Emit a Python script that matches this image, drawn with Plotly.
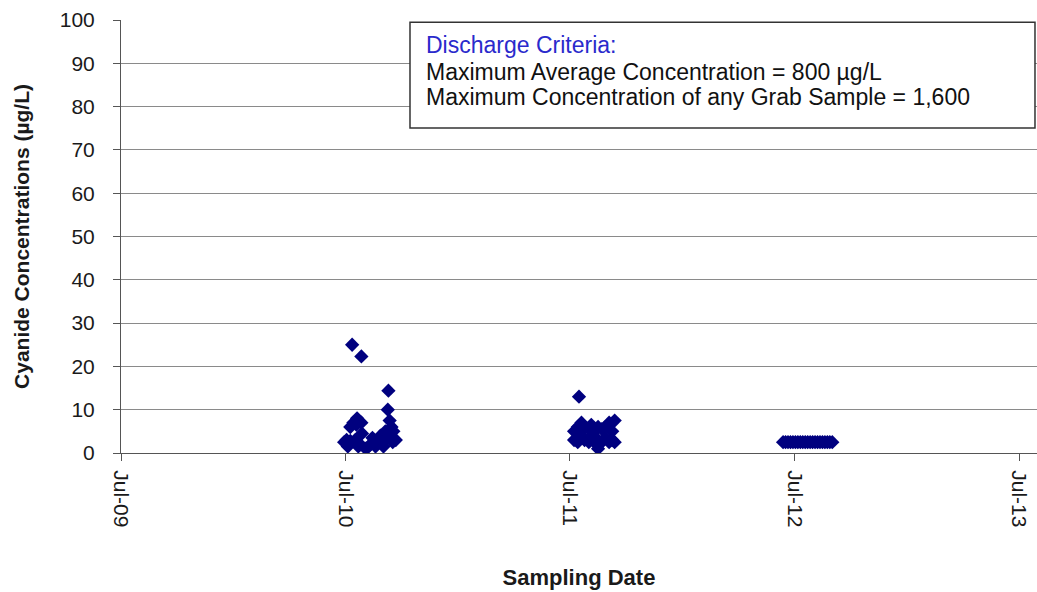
import plotly.graph_objects as go

# ---- data ----
dates_2010 = ["2010-07-12", "2010-07-27", "2010-09-09", "2010-09-08", "2010-09-11",
              "2010-07-20", "2010-07-14", "2010-07-27", "2010-07-09", "2010-07-19",
              "2010-09-14", "2010-09-17", "2010-07-03", "2010-06-29", "2010-07-09",
              "2010-07-17", "2010-07-25", "2010-08-03", "2010-08-11", "2010-08-14",
              "2010-08-19", "2010-08-24", "2010-08-27", "2010-09-01", "2010-09-06",
              "2010-09-16", "2010-09-21", "2010-08-08", "2010-07-28", "2010-07-22",
              "2010-09-04", "2010-08-30", "2010-08-16", "2010-07-05"]
values_2010 = [25, 22.3, 14.4, 10, 7.5,
               8, 7, 7, 6, 6.5,
               6, 5, 3, 2.5, 2.8,
               3, 2, 1, 2, 3.5,
               1.5, 3, 4, 1.5, 3.5,
               2.5, 3, 1.5, 4.5, 1.5,
               5, 2.5, 2.5, 1.5]

dates_2011 = ["2011-07-16", "2011-07-14", "2011-07-14", "2011-07-14", "2011-07-20",
              "2011-07-20", "2011-07-25", "2011-07-25", "2011-08-01", "2011-08-01",
              "2011-08-05", "2011-08-05", "2011-08-10", "2011-08-10", "2011-08-16",
              "2011-08-16", "2011-08-16", "2011-08-22", "2011-08-22", "2011-08-28",
              "2011-08-28", "2011-09-03", "2011-09-03", "2011-09-08", "2011-09-08",
              "2011-09-12", "2011-09-12", "2011-07-08", "2011-07-08"]
values_2011 = [13, 6, 5, 2.5, 7,
               4, 6, 3, 5.5, 2.5,
               6.5, 4, 5, 2.5, 6,
               3, 1, 5.5, 2.5, 6,
               3.5, 7, 2.5, 5, 3,
               7.5, 2.5, 3, 5]

dates_2012 = ["2012-06-12", "2012-06-16", "2012-06-20", "2012-06-24", "2012-06-28",
              "2012-07-02", "2012-07-06", "2012-07-10", "2012-07-14", "2012-07-18",
              "2012-07-22", "2012-07-26", "2012-07-30", "2012-08-03", "2012-08-07",
              "2012-08-11", "2012-08-15", "2012-08-19", "2012-08-23", "2012-08-27",
              "2012-08-31"]
values_2012 = [2.5] * len(dates_2012)

all_dates = dates_2010 + dates_2011 + dates_2012
all_values = values_2010 + values_2011 + values_2012

y_ticks = [0, 10, 20, 30, 40, 50, 60, 70, 80, 90, 100]

FONT = "Liberation Sans, Arial, sans-serif"

fig = go.Figure()
fig.add_trace(go.Scatter(
    x=all_dates, y=all_values, mode="markers",
    marker=dict(symbol="diamond", size=11, color="#00007f",
                line=dict(width=0)),
    showlegend=False,
))

fig.update_layout(
    width=1037, height=592,
    margin=dict(l=121, r=0, t=20, b=139, pad=0),
    paper_bgcolor="white", plot_bgcolor="white",
    font=dict(family=FONT, size=21, color="#1a1a1a"),
    xaxis=dict(
        range=["2009-07-01", "2013-07-30"],
        tick0="2009-07-01", dtick="M12", tickformat="%b-%y",
        tickangle=90, ticks="outside", ticklen=7, tickcolor="#555",
        ticklabelstandoff=5,
        showgrid=False, showline=True, linecolor="#555", linewidth=1,
        zeroline=False,
        title=dict(text="<b>Sampling Date</b>", font=dict(size=22), standoff=43),
    ),
    yaxis=dict(
        range=[0, 100], tickvals=y_ticks,
        ticks="outside", ticklen=7, tickcolor="#555",
        ticklabelstandoff=14,
        showgrid=True, gridcolor="#8a8a8a", gridwidth=1,
        showline=True, linecolor="#555", linewidth=1,
        zeroline=False,
        title=dict(text="<b>Cyanide Concentrations (µg/L)</b>", font=dict(size=21), standoff=24),
    ),
    shapes=[dict(type="rect", xref="paper", yref="paper",
                 x0=0.3155, x1=0.9978, y0=0.7506, y1=0.995,
                 line=dict(color="#333", width=1.5), fillcolor="white", layer="above")],
)

W = 916.0
H = 433.0
def px_x(x):
    return (x - 121) / W
def px_y(y):
    return (453 - y) / H

lines = [("Discharge Criteria:", "#2a2acc", 45),
         ("Maximum Average Concentration = 800 µg/L", "#111", 72),
         ("Maximum Concentration of any Grab Sample = 1,600", "#111", 97)]
for txt, col, yy in lines:
    fig.add_annotation(xref="paper", yref="paper", x=px_x(424), y=px_y(yy),
                       xanchor="left", yanchor="middle", showarrow=False,
                       text=txt, font=dict(size=23, color=col, family=FONT))

fig.write_html(
    "out.html",
    config={"displayModeBar": False},
    post_script="document.body.style.margin='0';document.body.style.overflow='hidden';",
)
